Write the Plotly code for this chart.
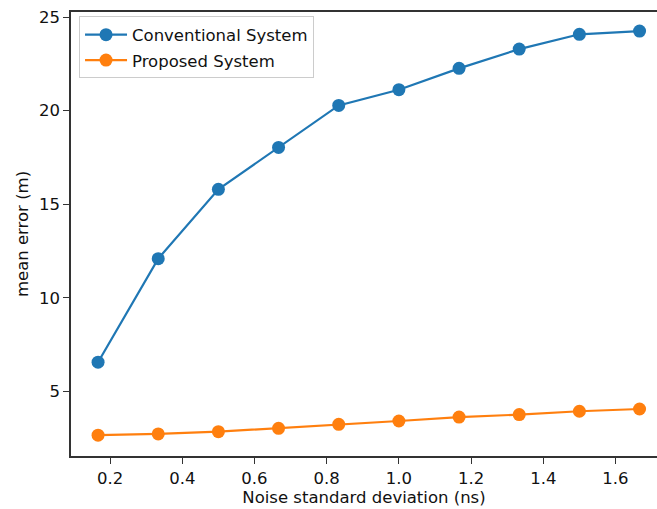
import plotly.graph_objects as go

noise_std = [1/6, 2/6, 3/6, 4/6, 5/6, 6/6, 7/6, 8/6, 9/6, 10/6]
conventional = [6.57, 12.1, 15.8, 18.04, 20.28, 21.12, 22.26, 23.29, 24.08, 24.25]
proposed = [2.67, 2.74, 2.86, 3.04, 3.25, 3.43, 3.64, 3.77, 3.95, 4.07]
x_ticks = [0.2, 0.4, 0.6, 0.8, 1.0, 1.2, 1.4, 1.6]
x_tick_labels = ["0.2", "0.4", "0.6", "0.8", "1.0", "1.2", "1.4", "1.6"]
y_ticks = [5, 10, 15, 20, 25]

FONT = "DejaVu Sans"
FS = 16.5

fig = go.Figure()
fig.add_trace(go.Scatter(
    x=noise_std, y=conventional, mode="lines+markers", name="Conventional System",
    line=dict(color="#1f77b4", width=2.2), marker=dict(color="#1f77b4", size=13),
    legendgroup="a",
))
fig.add_trace(go.Scatter(
    x=noise_std, y=proposed, mode="lines+markers", name="Proposed System",
    line=dict(color="#ff7f0e", width=2.2), marker=dict(color="#ff7f0e", size=13),
    legendgroup="b",
))

axis_common = dict(
    showgrid=False, zeroline=False, showline=True, linecolor="#333333", linewidth=1.5,
    ticks="outside", ticklen=6, tickcolor="#333333", tickwidth=1.2,
    tickfont=dict(family=FONT, size=FS, color="#111111"),
)

fig.update_layout(
    width=657, height=509,
    margin=dict(l=71, r=0, t=12, b=53),
    paper_bgcolor="white", plot_bgcolor="white",
    font=dict(family=FONT, size=FS, color="#111111"),
    xaxis=dict(range=[0.0917, 1.715], tickvals=x_ticks, ticktext=x_tick_labels,
               mirror=True,
               title=dict(text="Noise standard deviation (ns)", font=dict(family=FONT, size=FS), standoff=4),
               **axis_common),
    yaxis=dict(range=[1.56, 25.27], tickvals=y_ticks,
               title=dict(text="mean error (m)", font=dict(family=FONT, size=FS), standoff=6),
               **axis_common),
    legend=dict(x=0.0137, y=0.99, xanchor="left", yanchor="top",
                bordercolor="#cccccc", borderwidth=1, bgcolor="rgba(255,255,255,0.8)",
                font=dict(family=FONT, size=FS), traceorder="grouped", tracegroupgap=1,
                itemwidth=42),
    showlegend=True,
)

fig.write_html("out.html")
